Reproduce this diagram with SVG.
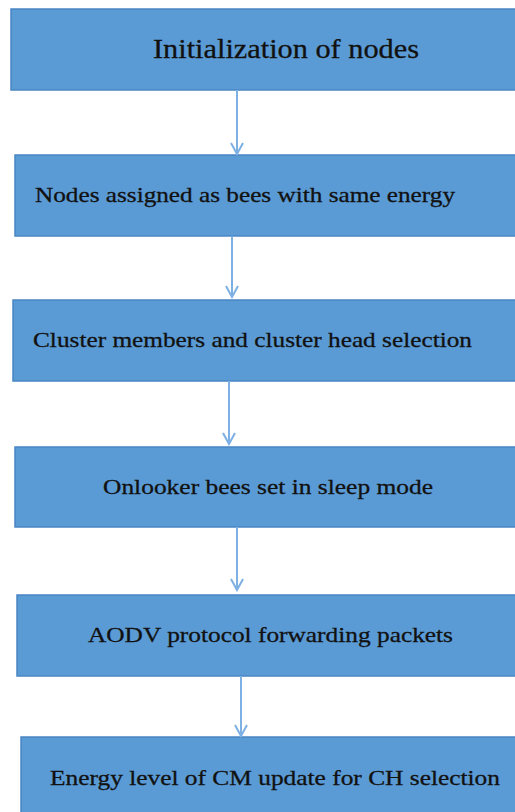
<svg xmlns="http://www.w3.org/2000/svg" width="515" height="812" viewBox="0 0 515 812">
<defs>
<style>
.box{fill:#5b9bd5;stroke:#4a86c4;stroke-width:1.5}
.t{font-family:"Liberation Serif","Times New Roman",serif;fill:#111;font-size:22px;stroke:#111;stroke-width:0.3}
.c{stroke:#7db0e3;stroke-width:2;fill:none}
</style>
<marker id="ah" markerWidth="14" markerHeight="14" viewBox="0 0 12 14" refX="11" refY="7" orient="auto" markerUnits="userSpaceOnUse">
<path d="M0,1 L11,7 L0,13" fill="none" stroke="#7db0e3" stroke-width="2"/>
</marker>
</defs>
<rect width="515" height="812" fill="#fff"/>
<g id="n1"><rect class="box" x="11" y="9" width="510" height="81"/><text class="t" x="153" y="58" style="font-size:27px" textLength="266" lengthAdjust="spacingAndGlyphs">Initialization of nodes</text></g>
<g id="n2"><rect class="box" x="15" y="155" width="506" height="81"/><text class="t" x="35" y="202" textLength="420" lengthAdjust="spacingAndGlyphs">Nodes assigned as bees with same energy</text></g>
<g id="n3"><rect class="box" x="13" y="300" width="508" height="81"/><text class="t" x="33" y="347" textLength="439" lengthAdjust="spacingAndGlyphs">Cluster members and cluster head selection</text></g>
<g id="n4"><rect class="box" x="15" y="447" width="506" height="80"/><text class="t" x="103" y="494" textLength="330" lengthAdjust="spacingAndGlyphs">Onlooker bees set in sleep mode</text></g>
<g id="n5"><rect class="box" x="17" y="595" width="504" height="81"/><text class="t" x="88" y="642" textLength="365" lengthAdjust="spacingAndGlyphs">AODV protocol forwarding packets</text></g>
<g id="n6"><rect class="box" x="21" y="737" width="500" height="85"/><text class="t" x="50" y="785" textLength="450" lengthAdjust="spacingAndGlyphs">Energy level of CM update for CH selection</text></g>
<g id="connectors">
<line class="c" x1="237" y1="90" x2="237" y2="154" marker-end="url(#ah)"/>
<line class="c" x1="232" y1="236" x2="232" y2="297" marker-end="url(#ah)"/>
<line class="c" x1="229" y1="381" x2="229" y2="444" marker-end="url(#ah)"/>
<line class="c" x1="237" y1="527" x2="237" y2="590" marker-end="url(#ah)"/>
<line class="c" x1="241" y1="676" x2="241" y2="736" marker-end="url(#ah)"/>
</g>
</svg>
